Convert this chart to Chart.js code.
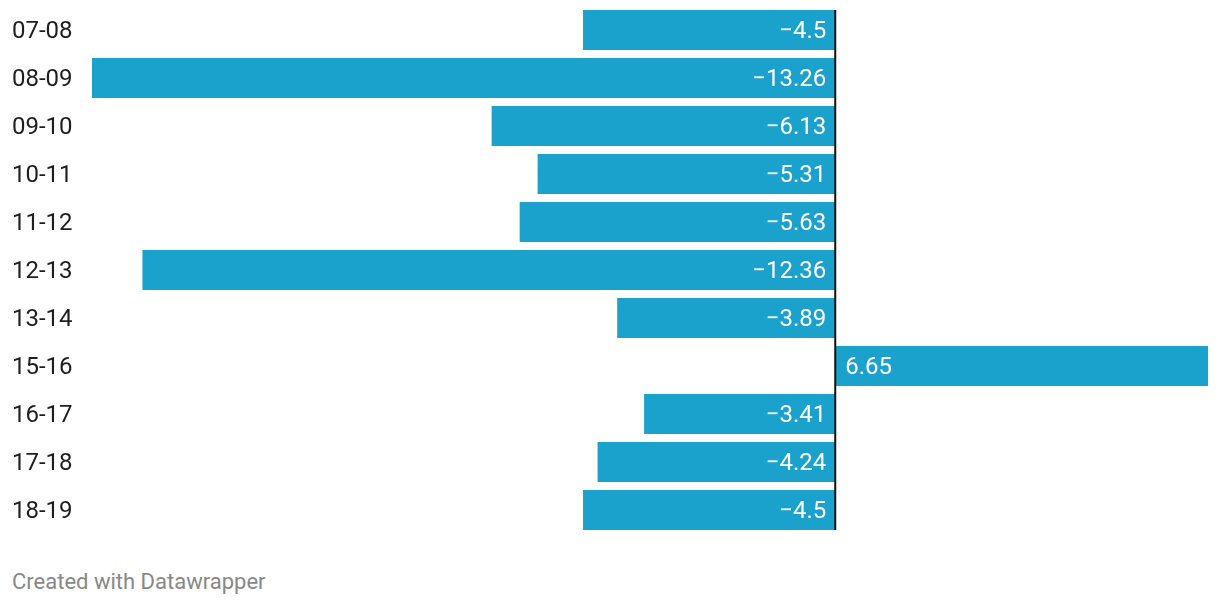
<!DOCTYPE html>
<html>
<head>
<meta charset="utf-8">
<script src="https://cdn.jsdelivr.net/npm/chart.js@4/dist/chart.umd.min.js"></script>
<style>
    body { margin: 0; background: #fff; font-family: Roboto, sans-serif; }
    #wrap { position: relative; width: 1220px; height: 606px; }
    #footer { position: absolute; left: 12px; top: 568px; font-size: 22px; line-height: 28px; color: #888; }
</style>
</head>
<body>
<div id="wrap">
    <canvas id="chartBar" width="1220" height="540"></canvas>
    <div id="footer">Created with Datawrapper</div>
</div>
<script>
// periods and change values
var periods = ['07-08', '08-09', '09-10', '10-11', '11-12', '12-13', '13-14', '15-16', '16-17', '17-18', '18-19'];
var changes = [-4.5, -13.26, -6.13, -5.31, -5.63, -12.36, -3.89, 6.65, -3.41, -4.24, -4.5];

var barColor = '#1aa2cd';

function fmt(v) {
    return v < 0 ? '\u2212' + Math.abs(v) : String(v);
}

// zero line + value labels
var valueLabels = {
    id: 'valueLabels',
    afterDatasetsDraw: function (chart) {
        var ctx = chart.ctx;
        var meta = chart.getDatasetMeta(0);
        var xs = chart.scales.x;
        var zero = xs.getPixelForValue(0);
        var first = meta.data[0], last = meta.data[meta.data.length - 1];
        ctx.save();
        ctx.strokeStyle = '#111';
        ctx.lineWidth = 2;
        ctx.beginPath();
        ctx.moveTo(zero, first.y - first.height / 2);
        ctx.lineTo(zero, last.y + last.height / 2);
        ctx.stroke();

        ctx.font = '24px Roboto';
        ctx.fillStyle = '#fff';
        ctx.textBaseline = 'middle';
        meta.data.forEach(function (bar, i) {
            var v = changes[i];
            if (v < 0) {
                ctx.textAlign = 'right';
                ctx.fillText(fmt(v), zero - 9, bar.y + 2);
            } else {
                ctx.textAlign = 'left';
                ctx.fillText(fmt(v), zero + 10, bar.y + 2);
            }
        });
        ctx.restore();
    }
};

var ctxBar = document.getElementById('chartBar');
var myBarChart = new Chart(ctxBar, {
    type: 'bar',
    data: {
        labels: periods,
        datasets: [{
            data: changes,
            backgroundColor: barColor,
            barPercentage: 1,
            categoryPercentage: 40 / 48
        }]
    },
    options: {
        indexAxis: 'y',
        responsive: false,
        animation: false,
        layout: { padding: { left: 12, right: 12, top: 6, bottom: 6 } },
        plugins: {
            legend: { display: false },
            tooltip: { enabled: false }
        },
        scales: {
            x: {
                display: false,
                min: -13.26,
                max: 6.65
            },
            y: {
                grid: { display: false },
                border: { display: false },
                afterFit: function (scale) {
                    scale.width = 80;
                    scale.paddingTop = 0;
                    scale.paddingBottom = 0;
                },
                ticks: {
                    crossAlign: 'far',
                    labelOffset: 2,
                    color: '#1e1e1e',
                    font: { family: 'Roboto', size: 24 }
                }
            }
        }
    },
    plugins: [valueLabels]
});
</script>
</body>
</html>
